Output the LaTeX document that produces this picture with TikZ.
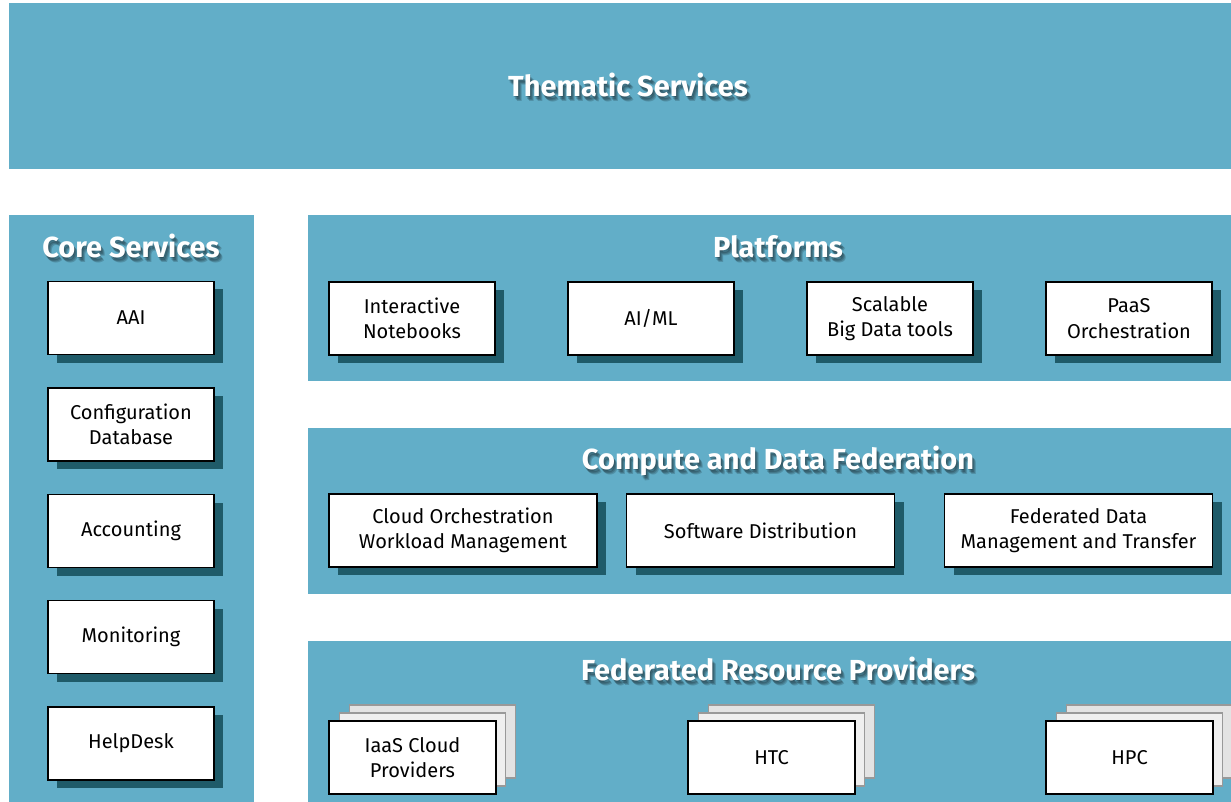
\documentclass[tikz,border=0pt]{standalone}
\usepackage{fontspec}
\setmainfont{Fira Sans}
\usetikzlibrary{shadows,calc}
\definecolor{panel}{HTML}{62AEC8}
\definecolor{shade}{HTML}{1F5B69}
\definecolor{backA}{HTML}{EFEFEF}
\definecolor{backB}{HTML}{E3E3E3}
\tikzset{
  wbox/.style={draw=black, line width=1.4pt, fill=white, align=center,
    font=\fontsize{20}{25.5}\selectfont, inner sep=0pt,
    drop shadow={shadow xshift=9pt, shadow yshift=-8pt, fill=shade, opacity=1}},
  smallw/.style={wbox, minimum width=166pt, minimum height=73pt},
  widew/.style={wbox, minimum width=268pt, minimum height=73pt},
  stackw/.style={draw=black, line width=1.4pt, fill=white, align=center,
    font=\fontsize{20}{25.5}\selectfont, inner sep=0pt, minimum width=167pt, minimum height=73pt},
  backbox/.style={draw=black!40, line width=1.2pt, minimum width=166pt, minimum height=73pt, inner sep=0pt},
  headtxt/.style={text=white, font=\bfseries\fontsize{29}{32}\selectfont, inner sep=0pt},
  headsh/.style={text=black, opacity=0.17, font=\bfseries\fontsize{29}{32}\selectfont, inner sep=0pt},
}
\newcommand{\myheading}[3]{%
  \node[headsh] (#1s1) at ($(#2)+(0.5,1)$) {#3};
  \node[headsh] (#1s2) at ($(#2)+(1.5,2.5)$) {#3};
  \node[headsh] (#1s3) at ($(#2)+(2.5,3.5)$) {#3};
  \node[headsh] (#1s4) at ($(#2)+(3.5,4.5)$) {#3};
  \node[headtxt] (#1) at (#2) {#3};
}
\begin{document}
\begin{tikzpicture}[x=1pt, y=-1pt]
\useasboundingbox (0,0) rectangle (1231,802);
\fill[white] (0,0) rectangle (1231,802);
% panels
\fill[panel] (9,3) rectangle (1231,169);
\fill[panel] (9,215) rectangle (254,802);
\fill[panel] (308,215) rectangle (1231,381);
\fill[panel] (308,428) rectangle (1231,594);
\fill[panel] (308,641) rectangle (1231,802);
% headings
\myheading{thematic}{628,85}{Thematic Services}
\myheading{core}{131,246}{Core Services}
\myheading{platforms}{778,247}{Platforms}
\myheading{compute}{778,461}{Compute and Data Federation}
\myheading{federated}{778,669}{Federated Resource Providers}
% core services
\node[smallw] (aai) at (131,318) {AAI};
\node[smallw] (cmdb) at (131,424.5) {Configuration\\Database};
\node[smallw] (acct) at (131,531) {Accounting};
\node[smallw] (mon) at (131,637) {Monitoring};
\node[smallw] (help) at (131,743.5) {HelpDesk};
% platforms
\node[smallw] (nb) at (412,318.5) {Interactive\\Notebooks};
\node[smallw] (aiml) at (651,318.5) {AI/ML};
\node[smallw] (bigdata) at (890,318.5) {Scalable\\Big Data tools};
\node[smallw] (paas) at (1129,318.5) {PaaS\\Orchestration};
% compute
\node[widew] (orch) at (463,530.5) {Cloud Orchestration\\Workload Management};
\node[widew] (sw) at (760.5,530.5) {Software Distribution};
\node[widew] (fdm) at (1078.5,530.5) {Federated Data\\Management and Transfer};
% federated resource providers
\foreach \nm/\cx/\txt in {iaas/412.5/{IaaS Cloud\\Providers}, htc/771.5/{HTC}, hpc/1129.5/{HPC}}{
  \node[backbox, fill=backB] (\nm b2) at (\cx+20,741.5) {};
  \node[backbox, fill=backA] (\nm b1) at (\cx+10,749.5) {};
  \node[stackw] (\nm) at (\cx,757.5) {\txt};
}
\end{tikzpicture}
\end{document}
